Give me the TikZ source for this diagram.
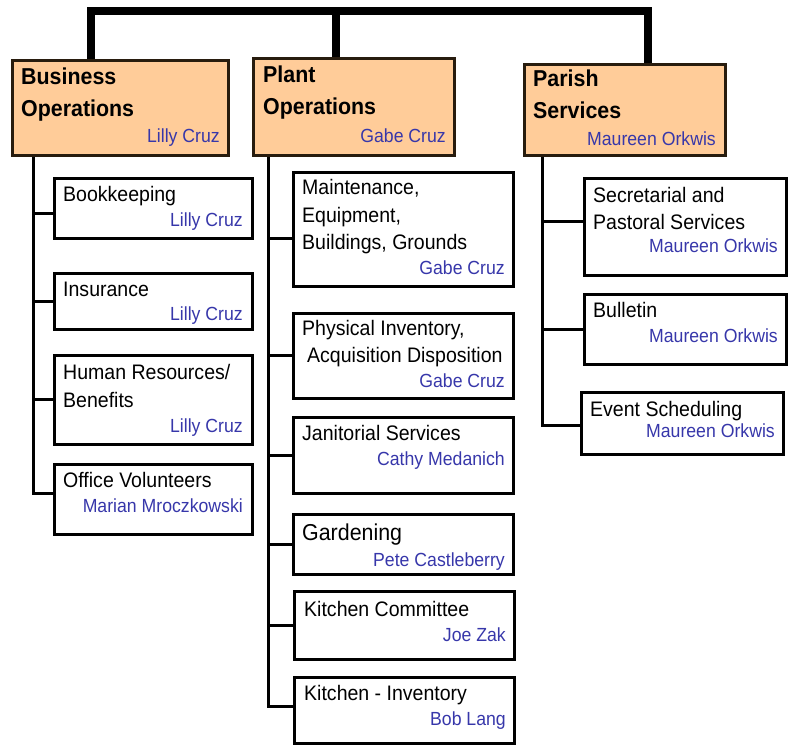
\documentclass[tikz,border=0pt]{standalone}
\usepackage{fontspec}
\setmainfont{Liberation Sans}[FakeStretch=0.93]
\usepackage{tikz}
\definecolor{peach}{RGB}{255,204,153}
\definecolor{headline}{RGB}{40,28,14}
\definecolor{nameblue}{RGB}{55,55,170}
\tikzset{
  headbox/.style={draw=headline, fill=peach, line width=3pt, anchor=north west, inner sep=0},
  unitbox/.style={draw, line width=3pt, anchor=north west, inner sep=0},
  headtext/.style={anchor=base west, inner sep=0, align=left, font=\fontsize{23}{32}\selectfont\bfseries},
  jobtext/.style={anchor=base west, inner sep=0, align=left, font=\fontsize{21}{27.5}\selectfont},
  who/.style={anchor=base east, inner sep=0, text=nameblue, font=\fontsize{19}{24}\selectfont},
  link/.style={line width=3pt},
  bus/.style={line width=8pt}
}
\begin{document}
\begin{tikzpicture}[x=1pt,y=-1pt]
\useasboundingbox (0,0) rectangle (793,751);
% the three departments (text placed by its last baseline)
\node[headbox, minimum width=216, minimum height=95] (bo) at (11,59) {};
\node[headbox, minimum width=201, minimum height=97] (po) at (252,57) {};
\node[headbox, minimum width=201, minimum height=91] (pa) at (523,63) {};
\node[headtext] (bo-t) at ([xshift=10,yshift=-58]bo.north west) {Business\\Operations};
\node[headtext] (po-t) at ([xshift=11,yshift=-58]po.north west) {Plant\\Operations};
\node[headtext] (pa-t) at ([xshift=10,yshift=-56]pa.north west) {Parish\\Services};
\node[who] (bo-w) at ([xshift=-10]bo.east |- 0,143) {Lilly Cruz};
\node[who] (po-w) at ([xshift=-10]po.east |- 0,143) {Gabe Cruz};
\node[who] (pa-w) at ([xshift=-11]pa.east |- 0,146) {Maureen Orkwis};

% top bus
\coordinate (bus) at (336,11);
\draw[bus] ([xshift=80]bo.north west) |- ([xshift=125]pa.north west |- bus) -- ([xshift=125]pa.north west);
\draw[bus] (bus) -- (po.north -| bus);

% business operations
\node[unitbox, minimum width=198, minimum height=60] (bk) at (53,177) {};
\node[unitbox, minimum width=198, minimum height=56] (ins) at (53,272) {};
\node[unitbox, minimum width=198, minimum height=89] (hr) at (53,354) {};
\node[unitbox, minimum width=198, minimum height=70] (ov) at (53,463) {};
\node[jobtext] (bk-t) at ([xshift=10,yshift=-25]bk.north west) {Bookkeeping};
\node[jobtext] (ins-t) at ([xshift=10,yshift=-25]ins.north west) {Insurance};
\node[jobtext] (hr-t) at ([xshift=10,yshift=-53]hr.north west) {Human Resources/\\Benefits};
\node[jobtext] (ov-t) at ([xshift=10,yshift=-24]ov.north west) {Office Volunteers};
\node[who] (bk-w) at ([xshift=-11]bk.east |- 0,227) {Lilly Cruz};
\node[who] (ins-w) at ([xshift=-11]ins.east |- 0,321) {Lilly Cruz};
\node[who] (hr-w) at ([xshift=-11]hr.east |- 0,432) {Lilly Cruz};
\node[who] (ov-w) at ([xshift=-11]ov.east |- 0,512) {Marian Mroczkowski};
\coordinate (bk-in) at ([yshift=-5]bk.west);
\coordinate (bo-end) at (33,493);
\draw[link] (bo.south -| bo-end) -- (bo-end) -- (bo-end -| ov.west);
\draw[link] (bo-end |- bk-in) -- (bk-in);
\draw[link] (bo-end |- ins.west) -- (ins.west);
\draw[link] (bo-end |- hr.west) -- (hr.west);

% plant operations
\node[unitbox, minimum width=220, minimum height=114] (mnt) at (292,171) {};
\node[unitbox, minimum width=220, minimum height=85] (inv) at (292,312) {};
\node[unitbox, minimum width=220, minimum height=76] (jan) at (292,416) {};
\node[unitbox, minimum width=220, minimum height=60] (gar) at (292,513) {};
\node[unitbox, minimum width=220, minimum height=68] (kc) at (293,590) {};
\node[unitbox, minimum width=220, minimum height=66] (ki) at (293,676) {};
\node[jobtext] (mnt-t) at ([xshift=10,yshift=-79]mnt.north west) {Maintenance,\\Equipment,\\Buildings, Grounds};
\node[jobtext] (inv-t) at ([xshift=10,yshift=-51]inv.north west) {Physical Inventory,\\\hspace*{5pt}Acquisition Disposition};
\node[jobtext] (jan-t) at ([xshift=10,yshift=-24]jan.north west) {Janitorial Services};
\node[jobtext, font=\fontsize{23}{28}\selectfont] (gar-t) at ([xshift=10,yshift=-27]gar.north west) {Gardening};
\node[jobtext] (kc-t) at ([xshift=11,yshift=-26]kc.north west) {Kitchen Committee};
\node[jobtext] (ki-t) at ([xshift=11,yshift=-24]ki.north west) {Kitchen - Inventory};
\node[who] (mnt-w) at ([xshift=-10]mnt.east |- 0,275) {Gabe Cruz};
\node[who] (inv-w) at ([xshift=-10]inv.east |- 0,388) {Gabe Cruz};
\node[who] (jan-w) at ([xshift=-10]jan.east |- 0,465) {Cathy Medanich};
\node[who] (gar-w) at ([xshift=-10]gar.east |- 0,566) {Pete Castleberry};
\node[who] (kc-w) at ([xshift=-10]kc.east |- 0,641) {Joe Zak};
\node[who] (ki-w) at ([xshift=-10]ki.east |- 0,725) {Bob Lang};
\coordinate (mnt-in) at ([yshift=-9]mnt.west);
\coordinate (po-end) at (268,706);
\draw[link] (po.south -| po-end) -- (po-end) -- (po-end -| ki.west);
\draw[link] (po-end |- mnt-in) -- (mnt-in);
\draw[link] (po-end |- inv.west) -- (inv.west);
\draw[link] (po-end |- jan.west) -- (jan.west);
\draw[link] (po-end |- gar.west) -- (gar.west);
\draw[link] (po-end |- kc.west) -- (kc.west);

% parish services
\node[unitbox, minimum width=202, minimum height=97] (sec) at (583,177) {};
\node[unitbox, minimum width=202, minimum height=70] (bul) at (583,293) {};
\node[unitbox, minimum width=202, minimum height=62] (evt) at (580,391) {};
\node[jobtext] (sec-t) at ([xshift=10,yshift=-53]sec.north west) {Secretarial and\\Pastoral Services};
\node[jobtext] (bul-t) at ([xshift=10,yshift=-25]bul.north west) {Bulletin};
\node[jobtext] (evt-t) at ([xshift=10,yshift=-26]evt.north west) {Event Scheduling};
\node[who] (sec-w) at ([xshift=-10]sec.east |- 0,253) {Maureen Orkwis};
\node[who] (bul-w) at ([xshift=-10]bul.east |- 0,343) {Maureen Orkwis};
\node[who] (evt-w) at ([xshift=-10]evt.east |- 0,438) {Maureen Orkwis};
\coordinate (sec-in) at ([yshift=5]sec.west);
\coordinate (pa-end) at (542,425);
\draw[link] (pa.south -| pa-end) -- (pa-end) -- (pa-end -| evt.west);
\draw[link] (pa-end |- sec-in) -- (sec-in);
\draw[link] (pa-end |- bul.west) -- (bul.west);
\end{tikzpicture}
\end{document}
